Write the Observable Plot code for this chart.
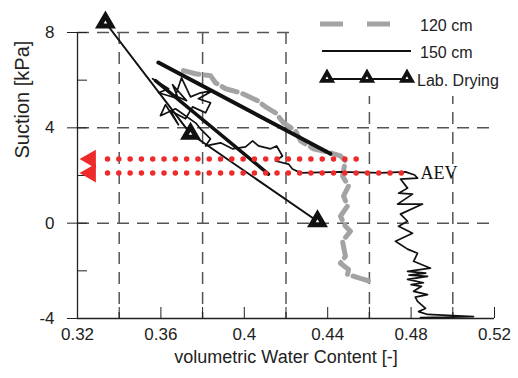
<!DOCTYPE html>
<html><head><meta charset="utf-8">
<script src="https://cdn.jsdelivr.net/npm/d3@7"></script>
<script src="https://cdn.jsdelivr.net/npm/@observablehq/plot@0.6"></script>
<style>
body{margin:0;background:#fff;}
#wrap{position:relative;width:518px;height:378px;}
#legend{position:absolute;left:0;top:0;}
</style>
</head><body><div id="wrap"></div>
<script>
// axis ticks
const xMajorTicks = [0.32, 0.36, 0.40, 0.44, 0.48, 0.52];
const xTickLabels = ["0.32", "0.36", "0.4", "0.44", "0.48", "0.52"];
const xMinorTicks = [0.34, 0.38, 0.42, 0.46, 0.50];
const yMajorTicks = [8, 4, 0, -4];
const yTickLabels = ["8", "4", "0", "-4"];
const yMinorTicks = [6, 2, -2];
const xGridLines = [0.34, 0.38, 0.42, 0.46, 0.50];
const yGridLines = [8, 4, 0];

// 120 cm series
const wc120 = [0.3708, 0.3766, 0.3838, 0.3862, 0.3910, 0.3982, 0.4063, 0.4102, 0.4150, 0.4188, 0.4246, 0.4270, 0.4332, 0.4413, 0.4461, 0.4485, 0.4471, 0.4500, 0.4476, 0.4495, 0.4461, 0.4485, 0.4509, 0.4471, 0.4485, 0.4461, 0.4500, 0.4495, 0.4557, 0.4605];
const suction120 = [6.40, 6.27, 6.19, 5.89, 5.64, 5.47, 5.14, 4.88, 4.63, 4.21, 3.87, 3.45, 3.12, 2.95, 2.82, 2.61, 1.98, 1.56, 1.14, 0.72, 0.29, -0.13, -0.34, -0.76, -1.39, -1.68, -1.94, -2.15, -2.32, -2.44];

// 150 cm series
const wc150 = [0.3560, 0.3637, 0.3589, 0.3684, 0.3656, 0.3723, 0.3670, 0.3699, 0.3742, 0.3790, 0.3848, 0.3780, 0.3838, 0.3814, 0.3752, 0.3718, 0.3646, 0.3684, 0.3622, 0.3598, 0.3670, 0.3766, 0.3790, 0.3838, 0.3814, 0.3886, 0.3943, 0.4006, 0.4040, 0.4068, 0.4126, 0.4155, 0.4183, 0.4150, 0.4212, 0.4231, 0.4270, 0.4461, 0.4653, 0.4773, 0.4817,
  0.4831, 0.4749, 0.4783, 0.4740, 0.4807, 0.4735, 0.4855, 0.4749, 0.4783, 0.4740, 0.4807, 0.4725, 0.4783, 0.4831, 0.4812, 0.4893, 0.4783, 0.4870, 0.4790, 0.4879, 0.4783, 0.4859, 0.4800, 0.4850, 0.4812, 0.4879, 0.4820, 0.4831, 0.4869, 0.4836, 0.4879, 0.5099, 0.4845];
const suction150 = [6.06, 5.64, 5.47, 5.22, 5.81, 5.14, 5.35, 6.10, 5.30, 5.47, 5.56, 5.22, 5.05, 4.63, 4.88, 4.38, 4.72, 4.13, 4.97, 4.51, 4.80, 4.21, 3.96, 3.54, 3.24, 3.37, 3.12, 3.20, 3.45, 3.24, 3.12, 3.24, 2.82, 2.61, 2.48, 2.27, 2.11, 2.15, 2.11, 2.15, 2.02,
  1.89, 1.85, 1.47, 1.26, 1.22, 0.80, 0.80, 0.38, 0.08, -0.13, -0.42, -0.76, -1.09, -1.26, -1.60, -1.89, -2.02, -2.10, -2.18, -2.23, -2.36, -2.50, -2.58, -2.65, -2.86, -3.00, -3.10, -3.28, -3.58, -3.71, -3.83, -3.92, -3.96];

// Lab. Drying series
const wcLab = [0.3334, 0.3742, 0.4351];
const suctionLab = [8.42, 3.75, 0.08];

// fitted straight lines
const fitAWc = [0.3588, 0.4413];
const fitASuction = [6.74, 2.91];
const fitBWc = [0.3574, 0.4116];
const fitBSuction = [5.98, 2.06];

// AEV markers (red dotted arrows)
const aevSuction = [2.69, 2.10];
const aevWcStart = [0.3344, 0.3344];
const aevWcEnd = [0.4543, 0.4797];
const aevArrowWc = [0.3262, 0.3262];
const aevLabel = [{wc: 0.4845, s: 2.10, text: "AEV"}];

const toPts = (xs, ys) => xs.map((x, i) => ({x, y: ys[i]}));
const font = "'Liberation Sans', Arial, sans-serif";

const chart = Plot.plot({
  width: 518, height: 378,
  marginLeft: 77, marginRight: 24, marginTop: 32, marginBottom: 60,
  style: {fontFamily: font, background: "white", overflow: "visible"},
  x: {domain: [0.32, 0.52]},
  y: {domain: [-4, 8]},
  marks: [
    Plot.ruleX(xGridLines, {stroke: "#555", strokeWidth: 1.5, strokeDasharray: "12,8"}),
    Plot.ruleY(yGridLines, {stroke: "#555", strokeWidth: 1.5, strokeDasharray: "12,8"}),
    Plot.ruleX([0.32], {stroke: "#222", strokeWidth: 1.3}),
    Plot.ruleY([-4], {stroke: "#222", strokeWidth: 1.3}),
    Plot.axisX({ticks: [...xMajorTicks, ...xMinorTicks], tickSize: -11, tickFormat: () => "", label: null, stroke: "#222"}),
    Plot.axisX({ticks: xMajorTicks, tickSize: 0, tickPadding: 9, fontSize: 17, fill: "#222",
      tickFormat: d => xTickLabels[xMajorTicks.findIndex(t => Math.abs(t - d) < 1e-9)], label: null}),
    Plot.axisY({ticks: [...yMajorTicks, ...yMinorTicks], tickSize: -10, tickFormat: () => "", label: null, stroke: "#222"}),
    Plot.axisY({ticks: yMajorTicks, tickSize: 10, tickPadding: 13, fontSize: 17, fill: "#222",
      tickFormat: d => yTickLabels[yMajorTicks.indexOf(d)], label: null, stroke: "#222"}),
    Plot.text(["volumetric Water Content [-]"], {frameAnchor: "bottom", dy: 44, fontSize: 18, fill: "#222"}),
    Plot.text(["Suction [kPa]"], {frameAnchor: "left", dx: -55, dy: -17, rotate: -90, fontSize: 20, fill: "#222"}),
    Plot.line(toPts(wc120, suction120), {x: "x", y: "y", stroke: "#a3a3a3", strokeWidth: 5, strokeDasharray: "16,6", curve: "linear"}),
    Plot.line(toPts(wc150, suction150), {x: "x", y: "y", stroke: "#111", strokeWidth: 1.7}),
    Plot.line(toPts(fitAWc, fitASuction), {x: "x", y: "y", stroke: "#111", strokeWidth: 4, strokeLinecap: "round"}),
    Plot.line(toPts(fitBWc, fitBSuction), {x: "x", y: "y", stroke: "#111", strokeWidth: 3.5, strokeLinecap: "round"}),
    Plot.line(toPts(wcLab, suctionLab), {x: "x", y: "y", stroke: "#111", strokeWidth: 2}),
    Plot.dot(toPts(wcLab, suctionLab), {x: "x", y: "y", symbol: "triangle", r: 5.2, fill: "#111", stroke: "#111", strokeWidth: 4, strokeLinejoin: "miter"}),
    Plot.dot(toPts(wcLab, suctionLab), {x: "x", y: "y", symbol: "triangle", r: 1.3, fill: "white", stroke: "none"}),
    Plot.link(aevSuction.map((s, i) => ({s, x1: aevWcStart[i], x2: aevWcEnd[i]})), {x1: "x1", x2: "x2", y1: "s", y2: "s", stroke: "#ee2a2a", strokeWidth: 5.5, strokeLinecap: "round", strokeDasharray: "0,11.3"}),
    Plot.dot(aevSuction.map((s, i) => ({s, x: aevArrowWc[i]})), {x: "x", y: "s", symbol: "triangle", r: 7, fill: "#ee2a2a", rotate: -90}),
    Plot.text(aevLabel, {x: "wc", y: "s", text: "text", textAnchor: "start", fontSize: 18, fontFamily: "'Liberation Serif', serif", fill: "#111"})
  ]
});
const wrap = document.getElementById("wrap");
wrap.appendChild(chart);

// legend overlay
const legend = d3.select(wrap).append("svg").attr("id", "legend").attr("width", 518).attr("height", 100);
legend.append("rect").attr("x", 297).attr("y", 4).attr("width", 216).attr("height", 92).attr("fill", "white");
const legendItems = ["120 cm", "150 cm", "Lab. Drying"];
legend.append("line").attr("x1", 320).attr("x2", 391).attr("y1", 24).attr("y2", 24).attr("stroke", "#a3a3a3").attr("stroke-width", 5).attr("stroke-dasharray", "23,24");
legend.append("line").attr("x1", 322).attr("x2", 411).attr("y1", 51).attr("y2", 51).attr("stroke", "#111").attr("stroke-width", 1.8);
legend.append("line").attr("x1", 327).attr("x2", 407).attr("y1", 79).attr("y2", 79).attr("stroke", "#111").attr("stroke-width", 2);
[327, 367, 407].forEach(x => {
  legend.append("path").attr("d", d3.symbol(d3.symbolTriangle, 45)()).attr("transform", `translate(${x},78)`).attr("fill", "#111").attr("stroke", "#111").attr("stroke-width", 3.5).attr("stroke-linejoin", "miter");
  legend.append("path").attr("d", d3.symbol(d3.symbolTriangle, 4)()).attr("transform", `translate(${x},78)`).attr("fill", "white");
});
legend.selectAll("text.lg").data(legendItems).join("text").attr("class", "lg")
  .attr("x", (d, i) => i === 2 ? 417 : 420).attr("y", (d, i) => [25, 52, 80][i])
  .attr("dominant-baseline", "central").attr("font-family", font).attr("font-size", 16).attr("fill", "#222").text(d => d);
</script>
</body></html>
